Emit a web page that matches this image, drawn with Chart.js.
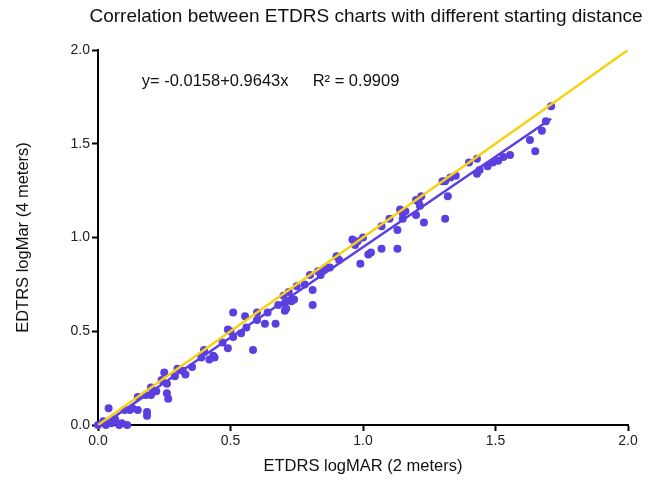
<!DOCTYPE html>
<html>
<head>
<meta charset="utf-8">
<script src="https://cdn.jsdelivr.net/npm/chart.js@4/dist/chart.umd.min.js"></script>
<style>
  html, body { margin: 0; padding: 0; background: #fff; }
  #wrap { width: 660px; height: 481px; }
</style>
</head>
<body>
<div id="wrap"><canvas id="chart" width="660" height="481"></canvas></div>
<script>
// Données (logMAR à 2 m vs 4 m)
const etdrs2m = [
  0.00, 0.02, 0.03, 0.04, 0.05, 0.065, 0.08, 0.09, 0.10, 0.11, 0.12, 0.13, 0.15, 0.15, 0.18, 0.185, 0.185,
  0.20, 0.20, 0.22, 0.24, 0.25, 0.26, 0.26, 0.265, 0.29, 0.30, 0.32, 0.33, 0.355,
  0.39, 0.40, 0.40, 0.42, 0.435, 0.44, 0.47, 0.49, 0.49, 0.50, 0.51, 0.51, 0.54, 0.555, 0.56, 0.585,
  0.60, 0.60, 0.63, 0.64, 0.67, 0.68, 0.70, 0.705, 0.705, 0.71, 0.72, 0.73, 0.74, 0.75,
  0.78, 0.80, 0.81, 0.81, 0.83, 0.84, 0.85, 0.86, 0.875, 0.90, 0.91, 0.96, 0.97, 0.98, 0.99, 1.00,
  1.02, 1.03, 1.07, 1.07, 1.10, 1.13, 1.13, 1.14, 1.15, 1.15, 1.16, 1.20, 1.20, 1.21, 1.215, 1.22, 1.23,
  1.30, 1.31, 1.31, 1.32, 1.33, 1.35, 1.40, 1.43, 1.43, 1.44, 1.47, 1.49, 1.51, 1.53, 1.555,
  1.63, 1.65, 1.675, 1.69, 1.71
];
const etdrs4m = [
  0.00, 0.02, 0.00, 0.09, 0.01, 0.03, 0.00, 0.01, 0.08, 0.00, 0.08, 0.09, 0.08, 0.15, 0.16, 0.07, 0.05,
  0.20, 0.16, 0.18, 0.24, 0.28, 0.22, 0.17, 0.14, 0.26, 0.30, 0.29, 0.27, 0.31,
  0.36, 0.39, 0.40, 0.35, 0.37, 0.36, 0.44, 0.51, 0.41, 0.50, 0.47, 0.60, 0.49, 0.58, 0.52, 0.40,
  0.60, 0.56, 0.54, 0.60, 0.54, 0.64, 0.69, 0.65, 0.61, 0.62, 0.71, 0.66, 0.67, 0.74,
  0.75, 0.80, 0.64, 0.72, 0.82, 0.80, 0.83, 0.84, 0.84, 0.90, 0.88, 0.99, 0.96, 0.98, 0.86, 1.00,
  0.91, 0.92, 0.94, 1.06, 1.10, 0.94, 1.04, 1.15, 1.10, 1.13, 1.14, 1.12, 1.20, 1.19, 1.17, 1.22, 1.08,
  1.30, 1.10, 1.30, 1.22, 1.32, 1.33, 1.40, 1.34, 1.42, 1.36, 1.38, 1.40, 1.41, 1.43, 1.44,
  1.52, 1.46, 1.57, 1.62, 1.70
];
const axisTicks = [0, 0.5, 1.0, 1.5, 2.0];
const fitIntercept = -0.0158;
const fitSlope = 0.9643;
const fitRange = [0, 1.71];
const identityRange = [0, 2.0];
const equationText = 'y= -0.0158+0.9643x';
const r2Text = 'R\u00B2 = 0.9909';
const titleText = 'Correlation between ETDRS charts with different starting distance';
const xTitle = 'ETDRS logMAR (2 meters)';
const yTitle = 'EDTRS logMar (4 meters)';

const purple = '#5b3fe0';
const yellow = '#f6d112';
const font = '"Liberation Sans", Arial, Helvetica, sans-serif';

// Textes : titre, équation, titres des axes
const annotations = {
  id: 'annotations',
  afterDraw(chart) {
    const ctx = chart.ctx;
    const xs = chart.scales.x, ys = chart.scales.y;
    ctx.save();
    ctx.fillStyle = '#111';
    ctx.textBaseline = 'middle';

    ctx.font = '19px ' + font;
    ctx.textAlign = 'center';
    ctx.fillText(titleText, 366, 17);

    ctx.font = '16.5px ' + font;
    ctx.textAlign = 'left';
    ctx.fillText(equationText, xs.getPixelForValue(0.165), ys.getPixelForValue(1.83));
    ctx.fillText(r2Text, xs.getPixelForValue(0.81), ys.getPixelForValue(1.83));

    ctx.font = '16.5px ' + font;
    ctx.textAlign = 'center';
    ctx.fillText(xTitle, (xs.left + xs.right) / 2, 466);

    ctx.translate(23, (ys.top + ys.bottom) / 2);
    ctx.rotate(-Math.PI / 2);
    ctx.fillText(yTitle, 0, 0);
    ctx.restore();
  }
};

const ctx = document.getElementById('chart').getContext('2d');
new Chart(ctx, {
  type: 'scatter',
  data: {
    datasets: [
      {
        label: 'points',
        data: etdrs2m.map((x, i) => ({ x: x, y: etdrs4m[i] })),
        backgroundColor: purple,
        borderColor: purple,
        pointRadius: 4,
        pointBorderWidth: 0,
        clip: 6,
        order: 3
      },
      {
        label: 'fit',
        type: 'line',
        data: fitRange.map(x => ({ x: x, y: fitIntercept + fitSlope * x })),
        borderColor: purple,
        borderWidth: 2.5,
        pointRadius: 0,
        fill: false,
        order: 2
      },
      {
        label: 'identity',
        type: 'line',
        data: identityRange.map(x => ({ x: x, y: x })),
        borderColor: yellow,
        borderWidth: 2.5,
        pointRadius: 0,
        fill: false,
        order: 1
      }
    ]
  },
  options: {
    responsive: false,
    animation: false,
    events: [],
    layout: { padding: { top: 50, right: 32, bottom: 0, left: 0 } },
    plugins: {
      legend: { display: false },
      tooltip: { enabled: false },
      title: { display: false }
    },
    scales: {
      x: {
        type: 'linear',
        min: 0,
        max: 2,
        afterBuildTicks: s => { s.ticks = axisTicks.map(v => ({ value: v })); },
        afterFit: s => { s.height = 56; },
        border: { color: '#000', width: 2 },
        grid: { drawOnChartArea: false, drawTicks: true, tickLength: 6, tickColor: '#000', tickWidth: 2 },
        ticks: { color: '#222', font: { family: font, size: 14 }, padding: 2, callback: v => v.toFixed(1) }
      },
      y: {
        type: 'linear',
        min: 0,
        max: 2,
        afterBuildTicks: s => { s.ticks = axisTicks.map(v => ({ value: v })); },
        afterFit: s => { s.width = 98; },
        border: { color: '#000', width: 2 },
        grid: { drawOnChartArea: false, drawTicks: true, tickLength: 6, tickColor: '#000', tickWidth: 2 },
        ticks: { color: '#222', font: { family: font, size: 14 }, padding: 2, callback: v => v.toFixed(1) }
      }
    }
  },
  plugins: [annotations]
});
</script>
</body>
</html>
